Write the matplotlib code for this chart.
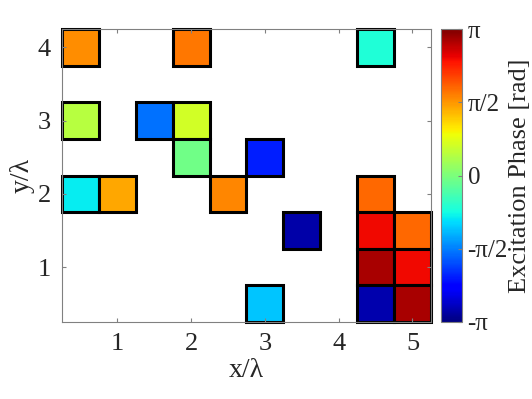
import numpy as np
import matplotlib
matplotlib.use('Agg')
import matplotlib.pyplot as plt
from matplotlib.patches import Rectangle
from matplotlib.colors import Normalize
from matplotlib.cm import ScalarMappable

plt.rcParams['font.family'] = ['Liberation Serif', 'DejaVu Serif']

# element positions (in wavelengths) and excitation phase (rad)
pos_x = [0.5, 2.0, 4.5, 0.5, 1.5, 2.0, 2.0, 3.0, 0.5, 1.0,
         2.5, 4.5, 3.5, 4.5, 5.0, 4.5, 5.0, 3.0, 4.5, 5.0]
pos_y = [4.0, 4.0, 4.0, 3.0, 3.0, 3.0, 2.5, 2.5, 2.0, 2.0,
         2.0, 2.0, 1.5, 1.5, 1.5, 1.0, 1.0, 0.5, 0.5, 0.5]
phase = [1.64, 1.78, -0.70, 0.46, -1.66, 0.65, -0.09, -2.16, -0.90, 1.46,
         1.68, 1.87, -2.92, 2.51, 1.87, 2.92, 2.51, -1.13, -2.88, 2.92]
cell = 0.5

fig = plt.figure(figsize=(5.32, 3.99), dpi=100)
ax = fig.add_axes([0.1165, 0.193, 0.6935, 0.734])
cax = fig.add_axes([0.829, 0.193, 0.0395, 0.734])

norm = Normalize(vmin=-np.pi, vmax=np.pi)
cmap = plt.get_cmap('jet')
for x, y, p in zip(pos_x, pos_y, phase):
    r = Rectangle((x - cell / 2, y - cell / 2), cell, cell,
                  facecolor=cmap(norm(p)), edgecolor='k', linewidth=2.2,
                  clip_on=False)
    ax.add_patch(r)

ax.set_xlim(0.25, 5.25)
ax.set_ylim(0.25, 4.25)
ax.set_xticks([1, 2, 3, 4, 5])
ax.set_yticks([1, 2, 3, 4])
ax.tick_params(direction='in', length=3, width=0.8, color='#808080',
               labelsize=19, labelcolor='#262626', top=True, right=True, pad=8)
for s in ax.spines.values():
    s.set_color('#808080')
    s.set_linewidth(0.8)
ax.set_xlabel('x/λ', fontsize=20, color='#262626', labelpad=2)
ax.set_ylabel('y/λ', fontsize=20, color='#262626', labelpad=2)

sm = ScalarMappable(norm=norm, cmap=cmap)
cb = fig.colorbar(sm, cax=cax)
cb.set_ticks([-np.pi, -np.pi / 2, 0, np.pi / 2, np.pi])
cb.set_ticklabels(['-π', '-π/2', '0', 'π/2', 'π'])
cb.ax.tick_params(direction='in', length=3, width=0.8, color='#808080',
                  labelsize=18, labelcolor='#262626', pad=4)
cb.outline.set_edgecolor('#808080')
cb.outline.set_linewidth(0.8)
cb.set_label('Excitation Phase [rad]', fontsize=19, color='#262626', labelpad=1)

fig.savefig('out.png', dpi=100)
